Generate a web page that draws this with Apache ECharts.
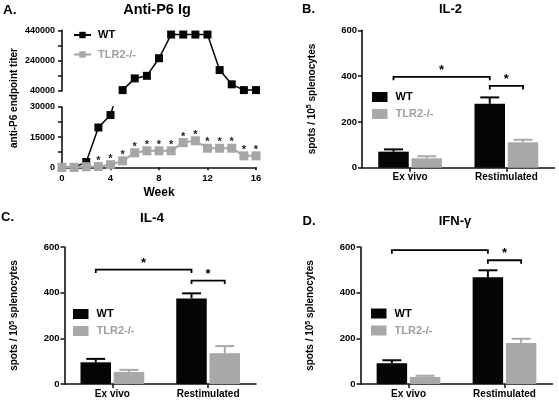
<!DOCTYPE html>
<html><head><meta charset="utf-8">
<script src="https://cdn.jsdelivr.net/npm/echarts@6/dist/echarts.min.js"></script>
<style>html,body{margin:0;padding:0;background:#fff}#c{width:559px;height:403px}</style>
</head><body><div id="c"></div>
<script>
// ---------- Panel A data ----------
const weeks = [0,1,2,3,4,5,6,7,8,9,10,11,12,13,14,15,16];
const wtTiter   = [0, 0, 2600, 19800, 26000, 46000, 123000, 140000, 256000, 412000, 412000, 412000, 412000, 178000, 84000, 46000, 46000];
const tlr2Titer = [0, 0, 300, 400, 1300, 3200, 7200, 8200, 8200, 8200, 12300, 13200, 9500, 9500, 9500, 5700, 5700];
const tlr2Sig   = [0, 0, 0, 1, 1, 1, 1, 1, 1, 1, 1, 1, 1, 1, 1, 1, 1];
const upperTicks = [40000, 440000, 200000]; // min, max, interval
const lowerTicks = [0, 30000, 15000];
const weekTicks = [0, 16, 4];

// ---------- Panels B-D data ----------
const cats = ['Ex vivo', 'Restimulated'];
const barTicks = [0, 600, 200];
const il2WT = [70, 279],  il2WTErr = [10, 28],  il2KO = [41, 111], il2KOErr = [9, 11];
const il4WT = [95, 375],  il4WTErr = [15, 22],  il4KO = [53, 135], il4KOErr = [9, 31];
const ifnWT = [91, 467],  ifnWTErr = [13, 31],  ifnKO = [31, 180], ifnKOErr = [5, 18];
// [cat1, side1(-1 WT / 1 KO), cat2, side2, level, mark]
const il2Brackets = [[0,-1,1,-1,397,'*'], [1,-1,1,1,357,'*']];
const il4Brackets = [[0,-1,1,-1,501,'*'], [1,-1,1,1,453,'*']];
const ifnBrackets = [[0,-1,1,-1,586,''],  [1,-1,1,1,542,'*']];

const F = 'Liberation Sans, Arial, Helvetica, sans-serif';
const BLACK = '#050505', GREY = '#a6a6a6';
const BAR_W = 30.5, BAR_GAP = 0.09;
const BAR_OFF = (BAR_W + BAR_W * BAR_GAP) / 2;
const CAP = 19;

const chart = echarts.init(document.getElementById('c'), null, {renderer: 'canvas'});

const lbl = (size) => ({fontFamily: F, fontWeight: 'bold', fontSize: size, color: '#000'});
const axLine = {show: true, lineStyle: {color: '#111', width: 1.6}};

const grids = [
  {left: 62, top: 30.3, width: 194, height: 60.7},
  {left: 62, top: 107, width: 194, height: 60.3},
  {left: 362, top: 30.3, width: 192.5, height: 137.4},
  {left: 64.5, top: 247, width: 191.5, height: 137},
  {left: 360.5, top: 247, width: 192, height: 137}
];

const xAxes = [
  {gridIndex: 0, type: 'value', min: weekTicks[0], max: weekTicks[1], interval: weekTicks[2], show: false},
  {gridIndex: 1, type: 'value', min: weekTicks[0], max: weekTicks[1], interval: weekTicks[2],
   axisLine: axLine, axisTick: {show: true, length: 3, lineStyle: {color: '#111', width: 1.5}},
   splitLine: {show: false}, axisLabel: Object.assign(lbl(9.5), {margin: 6}),
   name: 'Week', nameLocation: 'middle', nameGap: 19, nameTextStyle: lbl(12)}
];
const valAxis = (gi, t, extra) => Object.assign({
  gridIndex: gi, type: 'value', min: t[0], max: t[1], interval: t[2],
  axisLine: axLine, axisTick: {show: true, length: 4, lineStyle: {color: '#111', width: 1.5}},
  splitLine: {show: false}, axisLabel: Object.assign(lbl(9.5), {margin: 5, formatter: v => String(v)})
}, extra || {});
const yAxes = [
  valAxis(0, upperTicks, {minorTick: {show: true, splitNumber: 2, length: 4, lineStyle: {color: '#111', width: 1.5}}, axisLabel: Object.assign(lbl(9), {margin: 7, formatter: v => String(v)})}),
  valAxis(1, lowerTicks, {minorTick: {show: true, splitNumber: 2, length: 4, lineStyle: {color: '#111', width: 1.5}}, axisLabel: Object.assign(lbl(9), {margin: 7, formatter: v => String(v)})})
];

const series = [
  {name: 'WT', type: 'line', xAxisIndex: 1, yAxisIndex: 1, clip: true,
   data: weeks.map((w, i) => [w, wtTiter[i]]), symbol: 'rect', symbolSize: 8,
   itemStyle: {color: BLACK}, lineStyle: {color: BLACK, width: 1.5}, z: 2},
  {name: 'WT upper', type: 'line', xAxisIndex: 0, yAxisIndex: 0, clip: true,
   data: weeks.map((w, i) => [w, wtTiter[i] >= upperTicks[0] ? wtTiter[i] : null]), symbol: 'rect', symbolSize: 8,
   itemStyle: {color: BLACK}, lineStyle: {color: BLACK, width: 1.5}, z: 2},
  {name: 'TLR2-/-', type: 'line', xAxisIndex: 1, yAxisIndex: 1, clip: false,
   data: weeks.map((w, i) => [w, tlr2Titer[i]]), symbol: 'rect', symbolSize: 9,
   itemStyle: {color: GREY}, lineStyle: {color: GREY, width: 2}, z: 3,
   label: {show: true, position: 'top', distance: 0, offset: [0, 4],
     formatter: p => tlr2Sig[p.dataIndex] ? '*' : '', fontFamily: F, fontWeight: 'bold', fontSize: 11, color: '#222'}}
];

const legends = [
  {left: 73, top: 29.5, orient: 'vertical', padding: 0, itemWidth: 17, itemHeight: 8, itemGap: 8.5,
   data: [{name: 'WT', textStyle: {color: '#000'}}, {name: 'TLR2-/-', textStyle: {color: '#a0a0a0'}}],
   textStyle: Object.assign(lbl(11), {padding: [0, 0, 0, 2]}), selectedMode: false}
];

function errRender(side, color) {
  return function (params, api) {
    const base = api.coord([api.value(0), api.value(1)]);
    const top = api.coord([api.value(0), api.value(1) + api.value(2)]);
    const x = base[0] + side * BAR_OFF;
    return {type: 'group', children: [
      {type: 'line', shape: {x1: x, y1: base[1], x2: x, y2: top[1]}, style: {stroke: color, lineWidth: 2}},
      {type: 'line', shape: {x1: x - CAP / 2, y1: top[1], x2: x + CAP / 2, y2: top[1]}, style: {stroke: color, lineWidth: 2}}
    ]};
  };
}
function bracketRender(list) {
  return function (params, api) {
    const b = list[params.dataIndex];
    const p1 = api.coord([b[0], b[4]]), p2 = api.coord([b[2], b[4]]);
    const x1 = p1[0] + b[1] * BAR_OFF, x2 = p2[0] + b[3] * BAR_OFF, y = p1[1];
    const ch = [{type: 'polyline', shape: {points: [[x1, y + 3.5], [x1, y], [x2, y], [x2, y + 3.5]]},
                 style: {stroke: '#000', lineWidth: 1.8, fill: null}}];
    if (b[5]) ch.push({type: 'text', x: (x1 + x2) / 2, y: y,
      style: {text: b[5], fontFamily: F, fontWeight: 'bold', fontSize: 13, fill: '#000', align: 'center', verticalAlign: 'bottom'}});
    return {type: 'group', children: ch};
  };
}

function barPanel(gi, key, wt, wtErr, ko, koErr, brackets, legendPos) {
  xAxes.push({gridIndex: gi, type: 'category', data: cats,
    axisLine: axLine, axisTick: {show: true, alignWithLabel: true, length: 4, lineStyle: {color: '#111', width: 1.5}},
    axisLabel: Object.assign(lbl(10), {margin: 5})});
  yAxes.push(valAxis(gi, barTicks, {
    name: 'spots / 10{sup|5} splenocytes', nameLocation: 'middle', nameGap: 44,
    nameTextStyle: Object.assign(lbl(10), {rich: {sup: {fontFamily: F, fontWeight: 'bold', fontSize: 7, color: '#000', verticalAlign: 'top', padding: [0, 0, 5, 0]}}})
  }));
  const nWT = 'WT|' + key, nKO = 'TLR2-/-|' + key;
  series.push(
    {name: nWT, type: 'bar', xAxisIndex: gi, yAxisIndex: gi, data: wt, barWidth: BAR_W, barGap: (BAR_GAP * 100) + '%', itemStyle: {color: BLACK}},
    {name: nKO, type: 'bar', xAxisIndex: gi, yAxisIndex: gi, data: ko, barWidth: BAR_W, barGap: (BAR_GAP * 100) + '%', itemStyle: {color: '#a8a8a8'}},
    {type: 'custom', xAxisIndex: gi, yAxisIndex: gi, renderItem: errRender(-1, BLACK), encode: {x: 0, y: 1},
     data: wt.map((v, i) => [i, v, wtErr[i]]), z: 3, silent: true},
    {type: 'custom', xAxisIndex: gi, yAxisIndex: gi, renderItem: errRender(1, '#a8a8a8'), encode: {x: 0, y: 1},
     data: ko.map((v, i) => [i, v, koErr[i]]), z: 3, silent: true},
    {type: 'custom', xAxisIndex: gi, yAxisIndex: gi, renderItem: bracketRender(brackets), encode: {x: 0, y: 1},
     data: brackets.map(b => [b[0], b[4]]), z: 4, silent: true, clip: false}
  );
  legends.push({left: legendPos[0], top: legendPos[1], orient: 'vertical', padding: 0, icon: 'rect',
    itemWidth: 15.5, itemHeight: 10, itemGap: 6, selectedMode: false,
    formatter: n => n.split('|')[0],
    data: [{name: nWT, textStyle: {color: '#000'}}, {name: nKO, textStyle: {color: '#a0a0a0'}}],
    textStyle: Object.assign(lbl(11), {padding: [0, 0, 0, 3]})});
}
barPanel(2, 'B', il2WT, il2WTErr, il2KO, il2KOErr, il2Brackets, [372, 91.5]);
barPanel(3, 'C', il4WT, il4WTErr, il4KO, il4KOErr, il4Brackets, [73, 308.5]);
barPanel(4, 'D', ifnWT, ifnWTErr, ifnKO, ifnKOErr, ifnBrackets, [371, 308]);

const titles = [
  ['A.', 3, 3, 'left', 13.5], ['Anti-P6 Ig', 157, 2.5, 'center', 14.5],
  ['B.', 302, 3, 'left', 13], ['IL-2', 450.5, 3, 'center', 13],
  ['C.', 1, 211, 'left', 13], ['IL-4', 152, 211, 'center', 13.5],
  ['D.', 302.5, 215, 'left', 13], ['IFN-\u03b3', 455, 215, 'center', 13]
].map(t => ({text: t[0], left: t[1], top: t[2], textAlign: t[3], padding: 0, textStyle: lbl(t[4])}));

chart.setOption({
  animation: false,
  backgroundColor: '#fff',
  title: titles,
  grid: grids,
  xAxis: xAxes,
  yAxis: yAxes,
  legend: legends,
  series: series,
  graphic: [{type: 'text', x: 14, y: 98, rotation: Math.PI / 2,
    style: {text: 'anti-P6 endpoint titer', fontFamily: F, fontWeight: 'bold', fontSize: 10, fill: '#000', align: 'center', verticalAlign: 'middle'}}]
});
</script></body></html>
